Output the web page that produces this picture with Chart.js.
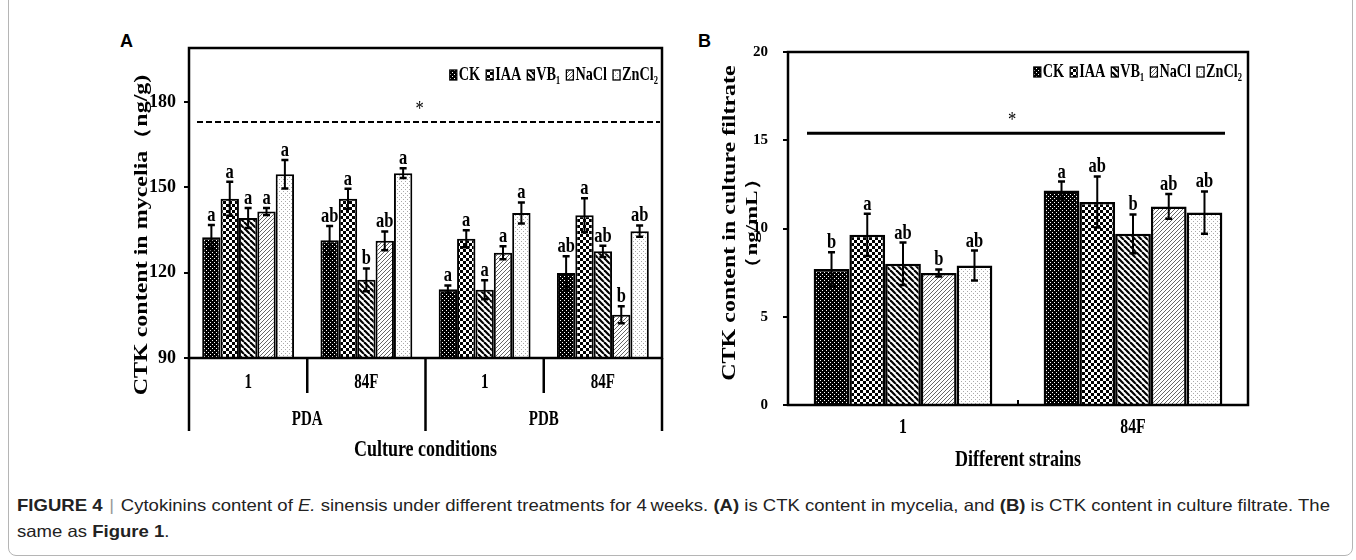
<!DOCTYPE html>
<html>
<head>
<meta charset="utf-8">
<script src="https://cdn.jsdelivr.net/npm/chart.js@4.4.1/dist/chart.umd.min.js"></script>
<style>
  body { margin: 0; background: #fff; width: 1356px; height: 560px; overflow: hidden; position: relative; }
  #frame { position: absolute; left: 8px; top: -20px; width: 1345px; height: 576px; border: 1px solid #b5b5b5; border-radius: 8px; box-sizing: border-box; }
  canvas { position: absolute; top: 0; }
  #cA { left: 100px; }
  #cB { left: 680px; }
  .tag { position: absolute; top: 31px; font: bold 18px 'Liberation Sans', Arial, sans-serif; color: #000; }
  #caption { position: absolute; left: 17px; top: 492px; font: 16.5px 'Liberation Sans', Arial, sans-serif; line-height: 26px; color: #222; white-space: nowrap; transform-origin: 0 0; }
  #caption .sep { color: #999; margin: 0 6px; }
</style>
</head>
<body>
<div id="frame"></div>
<div class="tag" style="left:120px">A</div>
<div class="tag" style="left:698px">B</div>
<canvas id="cA" width="600" height="480"></canvas>
<canvas id="cB" width="620" height="480"></canvas>
<div id="caption"><span id="l1"><b>FIGURE 4</b><span class="sep">|</span>Cytokinins content of <i>E.</i> sinensis under different treatments for 4&#8201;weeks. <b>(A)</b> is CTK content in mycelia, and <b>(B)</b> is CTK content in culture filtrate. The</span><br>same as <b>Figure 1</b>.</div>
<script>
const treatments = ['CK', 'IAA', 'VB₁', 'NaCl', 'ZnCl₂'];

// A: CTK in mycelia (ng/g)
const strainsA = ['1', '84F', '1', '84F'];
const mediaA = ['PDA', 'PDB'];
const ticksA = [90, 120, 150, 180];
const ckA = [132.5, 131.4, 114.2, 119.9];
const iaaA = [146, 146, 131.9, 140.2];
const vb1A = [139.2, 117.5, 114, 127.5];
const naclA = [141.5, 131.2, 127, 105.2];
const zncl2A = [154.6, 155, 141, 134.6];
const ckErrA = [4.3, 5, 1.3, 5.9];
const iaaErrA = [6, 3.5, 3, 6];
const vb1ErrA = [3.5, 4, 3.3, 2];
const naclErrA = [1.2, 3.3, 2.3, 3];
const zncl2ErrA = [5, 1.7, 3.7, 2];
const ckSigA = ['a', 'ab', 'a', 'ab'];
const iaaSigA = ['a', 'a', 'a', 'a'];
const vb1SigA = ['a', 'b', 'a', 'ab'];
const naclSigA = ['a', 'ab', 'a', 'b'];
const zncl2SigA = ['a', 'a', 'a', 'ab'];
const starLineA = 173;

// B: CTK in culture filtrate (ng/mL)
const strainsB = ['1', '84F'];
const ticksB = [0, 5, 10, 15, 20];
const ckB = [7.7, 12.16];
const iaaB = [9.64, 11.5];
const vb1B = [8.0, 9.7];
const naclB = [7.48, 11.25];
const zncl2B = [7.9, 10.9];
const ckErrB = [0.95, 0.5];
const iaaErrB = [1.2, 1.45];
const vb1ErrB = [1.2, 1.1];
const naclErrB = [0.2, 0.7];
const zncl2ErrB = [0.85, 1.2];
const ckSigB = ['b', 'a'];
const iaaSigB = ['a', 'ab'];
const vb1SigB = ['ab', 'b'];
const naclSigB = ['b', 'ab'];
const zncl2SigB = ['ab', 'ab'];
const starLineB = 15.4;

const SERIF = '"Liberation Serif", "Times New Roman", serif';
const SQ = 0.75; // the source figure is horizontally squeezed

function makePattern(size, draw) {
  const c = document.createElement('canvas');
  c.width = c.height = size;
  const g = c.getContext('2d');
  draw(g, size);
  return g.createPattern(c, 'repeat');
}
const fills = [
  makePattern(4, g => { g.fillStyle = '#000'; g.fillRect(0, 0, 4, 4); g.fillStyle = '#fff'; g.fillRect(0, 0, 1, 1); g.fillRect(2, 2, 1, 1); }),
  makePattern(6, g => { g.fillStyle = '#fff'; g.fillRect(0, 0, 6, 6); g.fillStyle = '#000'; g.fillRect(0, 0, 3, 3); g.fillRect(3, 3, 3, 3); }),
  makePattern(6, (g, s) => {
    g.fillStyle = '#fff'; g.fillRect(0, 0, s, s);
    g.strokeStyle = '#000'; g.lineWidth = 2.2;
    for (const o of [-s, 0, s]) { g.beginPath(); g.moveTo(o, 0); g.lineTo(o + s, s); g.stroke(); }
  }),
  makePattern(4, (g, s) => {
    g.fillStyle = '#fff'; g.fillRect(0, 0, s, s);
    g.strokeStyle = '#666'; g.lineWidth = 1;
    for (const o of [-s, 0, s]) { g.beginPath(); g.moveTo(o, s); g.lineTo(o + s, 0); g.stroke(); }
  }),
  makePattern(4, g => { g.fillStyle = '#fff'; g.fillRect(0, 0, 4, 4); g.fillStyle = '#aaa'; g.fillRect(1, 1, 1, 1); g.fillRect(3, 3, 1, 1); })
];

// squeezed text helpers
function txt(ctx, s, x, y, font, align, base) {
  ctx.save();
  ctx.font = font;
  ctx.textAlign = align || 'center';
  ctx.textBaseline = base || 'middle';
  ctx.fillStyle = '#000';
  ctx.translate(x, y);
  ctx.scale(SQ, 1);
  ctx.fillText(s, 0, 0);
  ctx.restore();
}
function vtxt(ctx, s, x, y, font) {
  ctx.save();
  ctx.font = font;
  ctx.textAlign = 'center';
  ctx.textBaseline = 'middle';
  ctx.fillStyle = '#000';
  ctx.translate(x, y);
  ctx.scale(SQ, 1);
  ctx.rotate(-Math.PI / 2);
  ctx.fillText(s, 0, 0);
  ctx.restore();
}

const decor = {
  id: 'decor',
  afterDatasetsDraw(chart, args, o) {
    const { ctx, chartArea: a } = chart;
    const xs = chart.scales.x, ys = chart.scales.y;
    ctx.save();
    ctx.strokeStyle = '#000';

    // error bars and letters
    chart.data.datasets.forEach((ds, i) => {
      chart.getDatasetMeta(i).data.forEach((bar, j) => {
        const hi = ys.getPixelForValue(ds.data[j] + ds.errors[j]);
        const lo = ys.getPixelForValue(ds.data[j] - ds.errors[j]);
        ctx.lineWidth = 2;
        ctx.beginPath(); ctx.moveTo(bar.x, hi); ctx.lineTo(bar.x, lo); ctx.stroke();
        ctx.lineWidth = 2.5;
        ctx.beginPath();
        ctx.moveTo(bar.x - 3.5, hi); ctx.lineTo(bar.x + 3.5, hi);
        ctx.moveTo(bar.x - 3.5, lo); ctx.lineTo(bar.x + 3.5, lo);
        ctx.stroke();
        txt(ctx, ds.letters[j], bar.x, hi - 4, 'bold 22px ' + SERIF, 'center', 'alphabetic');
      });
    });

    // plot frame
    ctx.lineWidth = 2.5;
    ctx.strokeRect(a.left, a.top, a.right - a.left, a.bottom - a.top);

    // significance line with star
    const ly = ys.getPixelForValue(o.starLine);
    ctx.lineWidth = o.dashed ? 2 : 3;
    ctx.setLineDash(o.dashed ? [6, 3] : []);
    ctx.beginPath(); ctx.moveTo(a.left + o.lineInset[0], ly); ctx.lineTo(a.right - o.lineInset[1], ly); ctx.stroke();
    ctx.setLineDash([]);
    txt(ctx, '*', (a.left + a.right) / 2 - 6, ly - 7, '22px ' + SERIF, 'center', 'alphabetic');

    // legend inside the plot, top right
    const lf = 'bold 19px ' + SERIF;
    ctx.font = lf;
    const items = chart.data.datasets.map(ds => ({ ds, w: 7 + 2 + ctx.measureText(ds.label).width * SQ }));
    const total = items.reduce((s, it) => s + it.w, 0) + 6 * (items.length - 1);
    let lx = a.right - o.legendRight - total;
    const cy = a.top + o.legendY;
    items.forEach(it => {
      ctx.fillStyle = it.ds.backgroundColor;
      ctx.fillRect(lx, cy - 5, 7, 10);
      ctx.lineWidth = 1.3;
      ctx.strokeRect(lx, cy - 5, 7, 10);
      txt(ctx, it.ds.label, lx + 9, cy, lf, 'left');
      lx += it.w + 6;
    });

    o.axes(ctx, xs, a);
    ctx.restore();
  }
};

function datasets(vals, errs, sigs, bw) {
  return treatments.map((t, i) => ({
    label: t,
    data: vals[i],
    errors: errs[i],
    letters: sigs[i],
    backgroundColor: fills[i],
    borderColor: '#000',
    borderWidth: bw,
    barPercentage: 1,
    categoryPercentage: 0.777
  }));
}

function yScale(min, max, ticks, fontSize, pad, width) {
  return {
    min: min, max: max,
    afterBuildTicks: s => { s.ticks = ticks.map(v => ({ value: v })); },
    afterFit: s => { s.width = width; },
    border: { display: false },
    grid: { drawOnChartArea: false, color: '#000', lineWidth: 2, tickLength: 5 },
    ticks: { color: '#000', padding: pad, font: { family: SERIF, weight: 'bold', size: fontSize } }
  };
}

Chart.defaults.font.family = SERIF;

new Chart(document.getElementById('cA'), {
  type: 'bar',
  data: {
    labels: strainsA,
    datasets: datasets([ckA, iaaA, vb1A, naclA, zncl2A],
      [ckErrA, iaaErrA, vb1ErrA, naclErrA, zncl2ErrA],
      [ckSigA, iaaSigA, vb1SigA, naclSigA, zncl2SigA], 2)
  },
  options: {
    responsive: false,
    animation: false,
    layout: { padding: { left: 49, right: 38, top: 48, bottom: 122 } },
    scales: {
      x: { display: false },
      y: yScale(90, 199, ticksA, 18, 8, 40)
    },
    plugins: {
      legend: { display: false },
      tooltip: { enabled: false },
      decor: {
        starLine: starLineA, dashed: true, lineInset: [8, 2], legendRight: 4, legendY: 27,
        axes(ctx, xs, a) {
          const w = (xs.right - xs.left) / strainsA.length;
          ctx.lineWidth = 2.5;
          for (let k = 0; k <= strainsA.length; k++) {
            const x = xs.left + k * w;
            ctx.beginPath(); ctx.moveTo(x, a.bottom); ctx.lineTo(x, a.bottom + (k % 2 ? 35 : 73)); ctx.stroke();
          }
          const f = 'bold 20px ' + SERIF;
          strainsA.forEach((s, i) => txt(ctx, s, xs.getPixelForValue(i), a.bottom + 25, f));
          mediaA.forEach((m, i) => txt(ctx, m, xs.left + (2 * i + 1) * w, a.bottom + 62, f));
          txt(ctx, 'Culture conditions', (a.left + a.right) / 2, a.bottom + 92, 'bold 24px ' + SERIF);
          vtxt(ctx, 'CTK content in mycelia（ng/g)', 42, 235, 'bold 24px ' + SERIF);
        }
      }
    }
  },
  plugins: [decor]
});

new Chart(document.getElementById('cB'), {
  type: 'bar',
  data: {
    labels: strainsB,
    datasets: datasets([ckB, iaaB, vb1B, naclB, zncl2B],
      [ckErrB, iaaErrB, vb1ErrB, naclErrB, zncl2ErrB],
      [ckSigB, iaaSigB, vb1SigB, naclSigB, zncl2SigB], 2.5)
  },
  options: {
    responsive: false,
    animation: false,
    layout: { padding: { left: 68, right: 52, top: 52, bottom: 75 } },
    scales: {
      x: { display: false },
      y: yScale(0, 20, ticksB, 15, 15, 40)
    },
    plugins: {
      legend: { display: false },
      tooltip: { enabled: false },
      decor: {
        starLine: starLineB, dashed: false, lineInset: [19, 23], legendRight: 6, legendY: 20,
        axes(ctx, xs, a) {
          const w = (xs.right - xs.left) / strainsB.length;
          ctx.lineWidth = 2;
          ctx.beginPath(); ctx.moveTo(xs.left + w, a.bottom); ctx.lineTo(xs.left + w, a.bottom - 5); ctx.stroke();
          strainsB.forEach((s, i) => txt(ctx, s, xs.getPixelForValue(i), a.bottom + 23, 'bold 21px ' + SERIF));
          txt(ctx, 'Different strains', (a.left + a.right) / 2, a.bottom + 55, 'bold 24px ' + SERIF);
          vtxt(ctx, 'CTK content in culture filtrate', 50, 223, 'bold 24px ' + SERIF);
          vtxt(ctx, '（ng/mL）', 73, 223, 'bold 23px ' + SERIF);
        }
      }
    }
  },
  plugins: [decor]
});

// stretch the caption's first line to the width it has in the figure
const w1 = document.getElementById('l1').getBoundingClientRect().width;
document.getElementById('caption').style.transform = 'scaleX(' + (1313 / w1) + ')';
</script>
</body>
</html>
